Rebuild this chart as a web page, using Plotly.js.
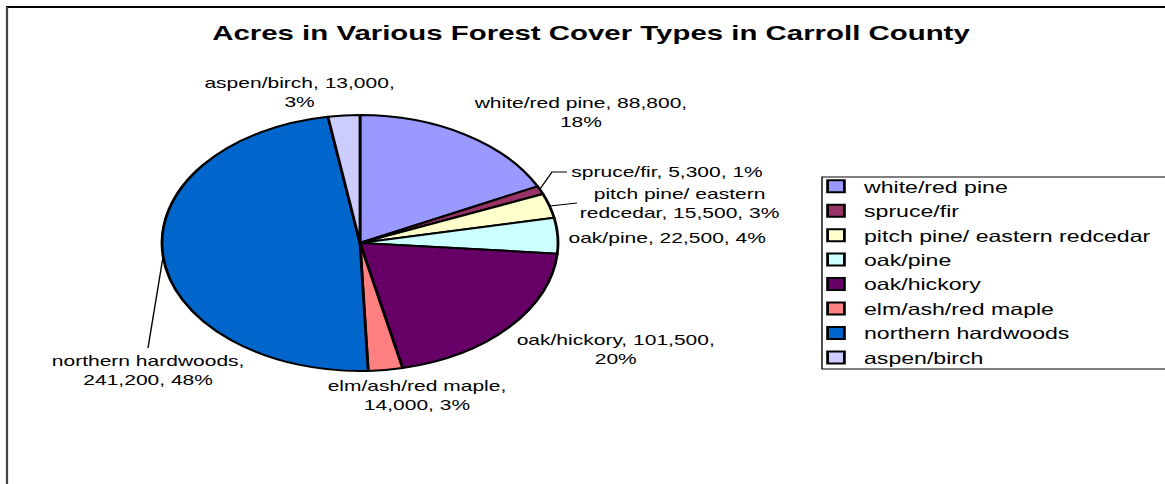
<!DOCTYPE html>
<html><head><meta charset="utf-8">
<script src="https://cdn.plot.ly/plotly-3.0.1.min.js"></script>
<style>
html,body{margin:0;padding:0;background:#fff;overflow:hidden;}
#wrap{width:1165px;height:484px;overflow:hidden;position:relative;}
#chart{width:832px;height:484px;transform:scaleX(1.400240385);transform-origin:0 0;}
.pielayer path{vector-effect:non-scaling-stroke;}
</style></head><body>
<div id="wrap"><div id="chart"></div></div>
<script>
// ---- data ----
const categories = ["white/red pine", "spruce/fir", "pitch pine/ eastern redcedar", "oak/pine",
                    "oak/hickory", "elm/ash/red maple", "northern hardwoods", "aspen/birch"];
const acres = [88800, 5300, 15500, 22500, 101500, 14000, 241200, 13000];
const sliceColors = ["#9999FF", "#993366", "#FFFFCC", "#CCFFFF", "#660066", "#FF8080", "#0066CC", "#CCCCFF"];

// ---- layout helpers (displayed pixel space) ----
const W = 1165, H = 484, W0 = 832, S = W / W0;
const px = X => X / W, py = Y => 1 - Y / H;
const CX = 360, CY = 243, RX = 198, RY = 128;
const r0 = RX / S;

// label placement (displayed px) : [x, y, xanchor, break-at-nth-space]
const labelPos = [
  [580, 112, 'center', 3],
  [569, 171, 'left', 0],
  [680, 204, 'center', 3],
  [565, 237, 'left', 0],
  [616, 349, 'center', 2],
  [417, 395, 'center', 2],
  [149, 370, 'center', 2],
  [300, 93, 'center', 2]
];
const leaders = [
  "M540,189 L552,172 L567,172",
  "M550,206 L577,203",
  "M163,257 L148,348"
];

const total = acres.reduce((a, b) => a + b, 0);
const fontFam = "Liberation Sans, Arial, sans-serif";

function labelText(i) {
  const pct = Math.round(acres[i] / total * 100);
  const s = categories[i] + ", " + acres[i].toLocaleString('en-US') + ", " + pct + "%";
  const n = labelPos[i][3];
  if (!n) return s;
  let idx = -1;
  for (let k = 0; k < n; k++) idx = s.indexOf(' ', idx + 1);
  return s.slice(0, idx) + "<br>" + s.slice(idx + 1);
}

const annotations = categories.map((c, i) => ({
  text: labelText(i), xref: 'paper', yref: 'paper',
  x: px(labelPos[i][0]), y: py(labelPos[i][1]),
  xanchor: labelPos[i][2], yanchor: 'middle', showarrow: false, align: 'center',
  font: {family: fontFam, size: 15, color: '#000'}
}));

const toPaperPath = d => d.replace(/([ML])(\d+(?:\.\d+)?),(\d+(?:\.\d+)?)/g,
  (m, c, x, y) => c + px(+x) + "," + py(+y));

const shapes = leaders.map(d => ({
  type: 'path', xref: 'paper', yref: 'paper', path: toPaperPath(d),
  line: {color: '#000', width: 1}
}));
// chart frame
shapes.push({type: 'line', xref: 'paper', yref: 'paper', x0: px(6), x1: 1, y0: py(7), y1: py(7), line: {color: '#000', width: 2}});
shapes.push({type: 'line', xref: 'paper', yref: 'paper', x0: px(7), x1: px(7), y0: py(7), y1: 0, line: {color: '#444', width: 1.6}});
// legend box
shapes.push({type: 'rect', xref: 'paper', yref: 'paper', x0: px(822), x1: px(1175), y0: py(177), y1: py(369),
             line: {color: '#000', width: 1}, fillcolor: 'rgba(0,0,0,0)', layer: 'below'});

const trace = {
  type: 'pie', labels: categories, values: acres, sort: false, direction: 'clockwise', rotation: 0,
  marker: {colors: sliceColors, line: {color: '#000', width: 2}},
  textinfo: 'none', hoverinfo: 'none',
  domain: {x: [(CX / S - r0) / W0, (CX / S + r0) / W0], y: [(H - CY - r0) / H, (H - CY + r0) / H]}
};

const layout = {
  width: W0, height: H,
  margin: {l: 0, r: 0, t: 0, b: 0, autoexpand: false},
  paper_bgcolor: '#fff', plot_bgcolor: '#fff',
  title: {text: 'Acres in Various Forest Cover Types in Carroll County', x: px(591), xanchor: 'center',
          y: py(33), yanchor: 'middle', xref: 'paper', yref: 'paper',
          font: {family: fontFam, size: 21, weight: 'bold', color: '#000'}},
  showlegend: true,
  legend: {x: px(822), y: py(169), xanchor: 'left', yanchor: 'top', bgcolor: 'rgba(0,0,0,0)',
           borderwidth: 0, indentation: -10, font: {family: fontFam, size: 16.5, color: '#000'},
           traceorder: 'normal'},
  annotations: annotations, shapes: shapes
};

Plotly.newPlot('chart', [trace], layout, {staticPlot: true}).then(() => {
  const pl = document.querySelector('#chart .pielayer');
  if (pl) pl.setAttribute('transform', `translate(0,${CY}) scale(1,${RY / r0}) translate(0,${-CY})`);
});
</script>
</body></html>
